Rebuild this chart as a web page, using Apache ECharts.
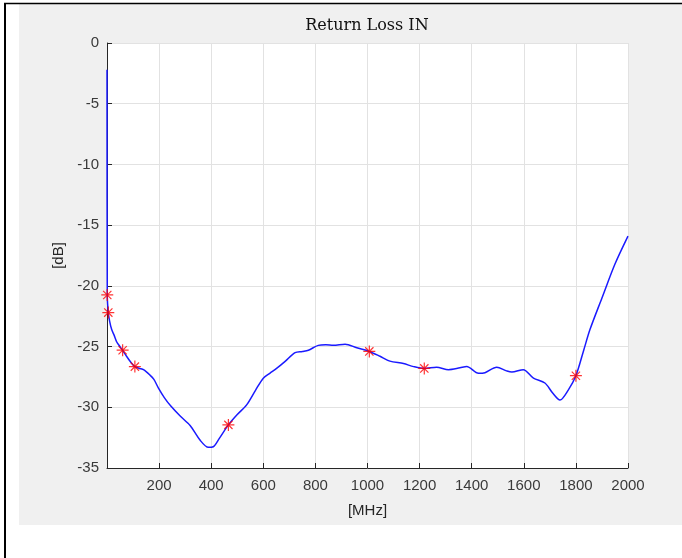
<!DOCTYPE html>
<html>
<head>
<meta charset="utf-8">
<script src="https://cdn.jsdelivr.net/npm/echarts@6/dist/echarts.min.js"></script>
<style>
  html, body { margin: 0; padding: 0; background: #fff; }
  #chart { width: 682px; height: 558px; }
</style>
</head>
<body>
<div id="chart"></div>
<script>
// return loss curve
const freqMHz = [0, 1, 5, 10, 18, 28, 37, 48, 60, 75, 90, 107, 125, 140, 165, 180, 197, 220, 245, 280,
  319, 357, 389, 408, 430, 466, 500, 536, 570, 600, 625, 651, 685, 722, 750, 773, 811, 840, 869, 914,
  959, 1007, 1048, 1086, 1138, 1177, 1218, 1265, 1311, 1355, 1381, 1426, 1451, 1496, 1534, 1554, 1598,
  1637, 1681, 1710, 1739, 1770, 1800, 1830, 1854, 1900, 1950, 2000]
const returnLossDb = [-2.2, -20.75, -22.2, -22.9, -23.6, -24.1, -24.6, -24.95, -25.3, -25.8, -26.25, -26.65,
  -26.8, -26.9, -27.35, -27.7, -28.4, -29.2, -29.9, -30.7, -31.5, -32.7, -33.3, -33.25, -32.6, -31.45,
  -30.6, -29.8, -28.6, -27.6, -27.2, -26.8, -26.2, -25.5, -25.4, -25.3, -24.9, -24.85, -24.9, -24.8,
  -25.1, -25.4, -25.8, -26.2, -26.4, -26.65, -26.8, -26.7, -26.9, -26.75, -26.65, -27.2, -27.15, -26.7,
  -27.0, -27.1, -26.9, -27.6, -28.0, -28.8, -29.4, -28.6, -27.4, -25.3, -23.6, -21.0, -18.2, -15.9]

// red asterisk markers
const markerFreq = [1, 5, 60, 107, 466, 1007, 1218, 1800]
const markerDb = [-20.75, -22.2, -25.3, -26.65, -31.45, -25.4, -26.8, -27.4]

const xTicks = [0, 200, 400, 600, 800, 1000, 1200, 1400, 1600, 1800, 2000]
const yTicks = [0, -5, -10, -15, -20, -25, -30, -35]

const asterisk = 'path://M0 9L20 9L20 11L0 11Z M9 0L11 0L11 20L9 20Z ' +
  'M2.4 3.8L3.8 2.4L17.6 16.2L16.2 17.6Z M16.2 2.4L17.6 3.8L3.8 17.6L2.4 16.2Z'

const chart = echarts.init(document.getElementById('chart'))
const axisColor = '#262626'
const gridColor = '#e2e2e2'

chart.setOption({
  animation: false,
  graphic: [
    { type: 'rect', z: -10, shape: { x: 19, y: 4, width: 663, height: 521 }, style: { fill: '#f0f0f0' } },
    { type: 'line', z: -5, shape: { x1: 4, y1: 3.5, x2: 682, y2: 3.5 }, style: { stroke: '#000', lineWidth: 1.5 } },
    { type: 'line', z: -5, shape: { x1: 5, y1: 3, x2: 5, y2: 558 }, style: { stroke: '#000', lineWidth: 2 } },
    {
      type: 'text', x: 367, y: 26,
      style: {
        text: 'Return Loss IN', fill: '#111', font: '16px "DejaVu Serif"',
        textAlign: 'center', textVerticalAlign: 'middle'
      }
    }
  ],
  grid: {
    left: 107, top: 43, width: 521, height: 425,
    show: true, backgroundColor: '#ffffff', borderWidth: 0
  },
  xAxis: {
    type: 'value', min: xTicks[0], max: xTicks[xTicks.length - 1], interval: 200,
    name: '[MHz]', nameLocation: 'middle', nameGap: 35,
    nameTextStyle: { fontFamily: 'Liberation Sans', fontSize: 15, color: axisColor },
    axisLine: { show: true, onZero: false, lineStyle: { color: axisColor, width: 1 } },
    axisTick: { show: true, inside: true, length: 5, lineStyle: { color: axisColor } },
    axisLabel: {
      margin: 10, fontFamily: 'Liberation Sans', fontSize: 15, color: '#3a3a3a',
      formatter: v => (v === 0 ? '' : v)
    },
    splitLine: { show: true, lineStyle: { color: gridColor, width: 1 } }
  },
  yAxis: {
    type: 'value', min: yTicks[yTicks.length - 1], max: yTicks[0], interval: 5,
    name: '[dB]', nameLocation: 'middle', nameGap: 33,
    nameTextStyle: { fontFamily: 'Liberation Sans', fontSize: 15, color: axisColor },
    axisLine: { show: true, onZero: false, lineStyle: { color: axisColor, width: 1 } },
    axisTick: { show: true, inside: true, length: 5, lineStyle: { color: axisColor } },
    axisLabel: { margin: 8, fontFamily: 'Liberation Sans', fontSize: 15, color: '#3a3a3a' },
    splitLine: { show: true, lineStyle: { color: gridColor, width: 1 } }
  },
  series: [
    {
      type: 'line',
      data: freqMHz.map((f, i) => [f, returnLossDb[i]]),
      showSymbol: false,
      smooth: 0.3,
      lineStyle: { color: '#1a1aff', width: 1.5 },
      z: 3
    },
    {
      type: 'scatter',
      data: markerFreq.map((f, i) => [f, markerDb[i]]),
      symbol: asterisk,
      symbolSize: 12,
      itemStyle: { color: '#ff0000' },
      z: 4
    }
  ]
})
</script>
</body>
</html>
